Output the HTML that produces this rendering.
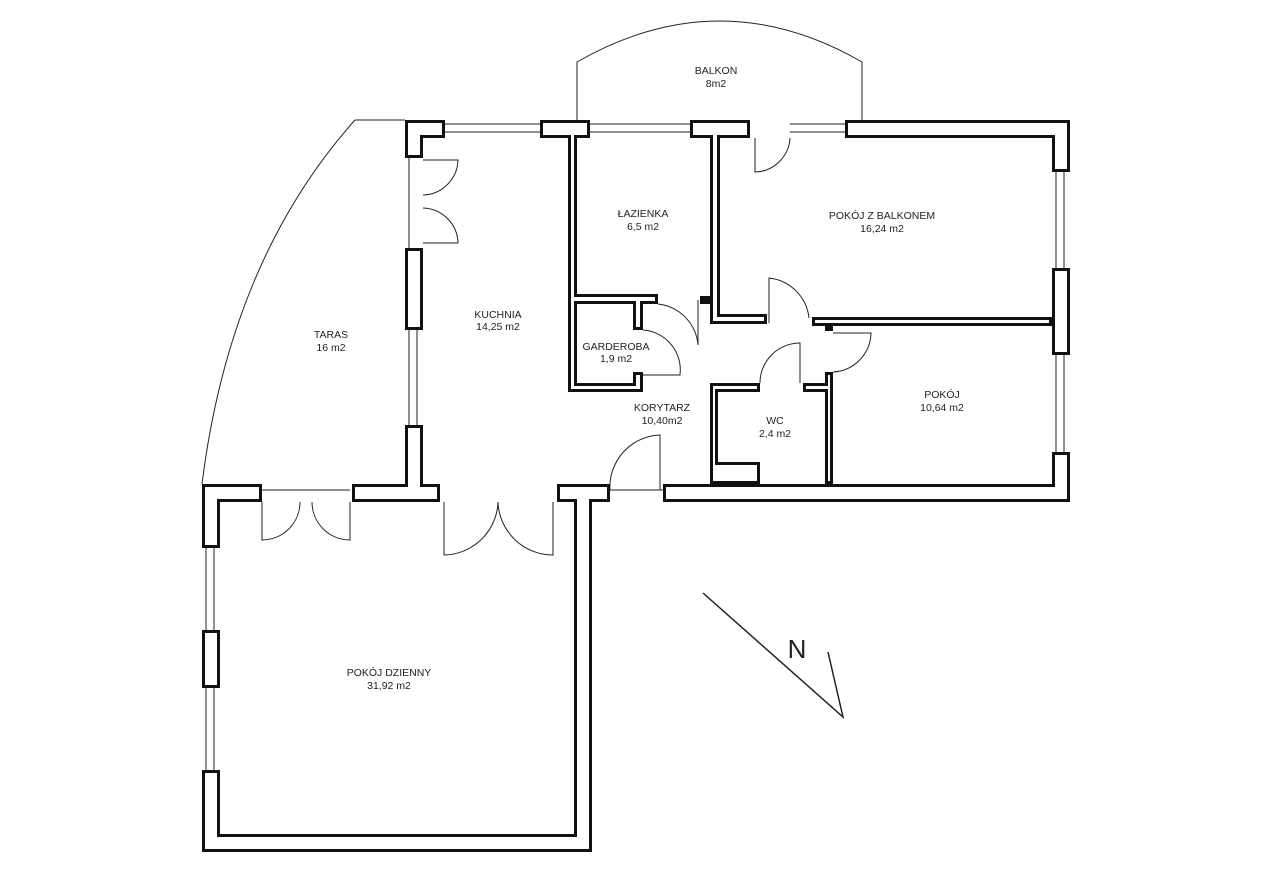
<!DOCTYPE html><html><head><meta charset="utf-8"><style>body{margin:0;background:#fff}svg{display:block}text{font-family:"Liberation Sans",sans-serif;font-size:10.5px;fill:#222;text-anchor:middle}</style></head><body>
<svg width="1280" height="880" viewBox="0 0 1280 880">
<g fill="none" stroke="#222" stroke-width="1">
<path d="M355,120 L405,120"/><path d="M355,120 Q230,260 202,484"/>
<path d="M577,120 L577,62 Q720,-20 862,62 L862,120"/>
<!-- windows -->
<path d="M445,124 H540 M445,132 H540 M590,124 H690 M590,132 H690 M790,124 H845 M790,132 H845"/>
<path d="M1056,172 V268 M1064,172 V268 M1056,355 V452 M1064,355 V452"/>
<path d="M409,330 V425 M417,330 V425 M206,548 V630 M214,548 V630 M206,688 V770 M214,688 V770"/>
<!-- doors -->
<path d="M423,160 H458 A36,36 0 0 1 423,195 M423,208 A36,36 0 0 1 458,243 H423 M409,158 V248"/>
<path d="M755,138 V172 A36,36 0 0 0 790,138"/>
<path d="M262,502 V540 A38,38 0 0 0 300,502 M350,502 V540 A38,38 0 0 1 312,502 M262,490 H350"/>
<path d="M444,502 V555 A55,55 0 0 0 498,502 M553,502 V555 A55,55 0 0 1 498,502"/>
<path d="M610,490 H663 M660,490 V435 A52,52 0 0 0 610,490"/>
<path d="M658,304 A45,45 0 0 1 698,345 V300"/>
<path d="M643,375 H680 A40,40 0 0 0 643,330"/>
<path d="M769,323 V278 A45,45 0 0 1 809,318"/>
<path d="M833,333 H871 A40,40 0 0 1 833,372"/>
<path d="M800,383 V343 A40,40 0 0 0 760,383"/>
<!-- north -->
<path d="M703,593 L843,717 L828,652" stroke-width="1.5"/>
</g>
<g fill="#111">
<rect x="405" y="120" width="40" height="18"/><rect x="405" y="120" width="18" height="38"/>
<rect x="540" y="120" width="50" height="18"/><rect x="568" y="120" width="9" height="272"/>
<rect x="690" y="120" width="60" height="18"/><rect x="710" y="120" width="10" height="204"/>
<rect x="845" y="120" width="225" height="18"/>
<rect x="1052" y="120" width="18" height="52"/><rect x="1052" y="268" width="18" height="87"/><rect x="1052" y="452" width="18" height="50"/>
<rect x="663" y="484" width="407" height="18"/>
<rect x="405" y="248" width="18" height="82"/><rect x="405" y="425" width="18" height="77"/><rect x="352" y="484" width="88" height="18"/>
<rect x="202" y="484" width="60" height="18"/><rect x="202" y="484" width="18" height="64"/><rect x="202" y="630" width="18" height="58"/><rect x="202" y="770" width="18" height="82"/>
<rect x="202" y="834" width="390" height="18"/><rect x="574" y="484" width="18" height="368"/><rect x="557" y="484" width="53" height="18"/>
<rect x="568" y="294" width="90" height="10"/><rect x="633" y="294" width="10" height="36"/><rect x="633" y="372" width="10" height="20"/><rect x="568" y="383" width="75" height="9"/>
<rect x="710" y="314" width="57" height="10"/><rect x="700" y="296" width="12" height="8"/>
<rect x="812" y="317" width="240" height="9"/><rect x="825" y="317" width="8" height="14"/>
<rect x="710" y="383" width="50" height="9"/><rect x="710" y="383" width="8" height="101"/><rect x="710" y="462" width="50" height="22"/>
<rect x="803" y="383" width="30" height="9"/><rect x="825" y="372" width="8" height="112"/>
</g>
<g fill="#fff">
<rect x="408" y="123" width="34" height="12"/><rect x="408" y="123" width="12" height="32"/>
<rect x="543" y="123" width="44" height="12"/><rect x="571" y="123" width="3" height="266"/>
<rect x="693" y="123" width="54" height="12"/><rect x="713" y="123" width="4" height="198"/>
<rect x="848" y="123" width="219" height="12"/>
<rect x="1055" y="123" width="12" height="46"/><rect x="1055" y="271" width="12" height="81"/><rect x="1055" y="455" width="12" height="44"/>
<rect x="666" y="487" width="401" height="12"/>
<rect x="408" y="251" width="12" height="76"/><rect x="408" y="428" width="12" height="71"/><rect x="355" y="487" width="82" height="12"/>
<rect x="205" y="487" width="54" height="12"/><rect x="205" y="487" width="12" height="58"/><rect x="205" y="633" width="12" height="52"/><rect x="205" y="773" width="12" height="76"/>
<rect x="205" y="837" width="384" height="12"/><rect x="577" y="487" width="12" height="362"/><rect x="560" y="487" width="47" height="12"/>
<rect x="571" y="297" width="84" height="4"/><rect x="636" y="297" width="4" height="30"/><rect x="636" y="375" width="4" height="14"/><rect x="571" y="386" width="69" height="3"/>
<rect x="713" y="317" width="51" height="4"/>
<rect x="815" y="320" width="234" height="3"/>
<rect x="713" y="386" width="44" height="3"/><rect x="713" y="386" width="2" height="95"/><rect x="713" y="465" width="44" height="16"/>
<rect x="806" y="386" width="24" height="3"/><rect x="828" y="375" width="2" height="106"/>
</g>
<text x="716" y="74">BALKON</text><text x="716" y="87">8m2</text>
<text x="643" y="217">ŁAZIENKA</text><text x="643" y="230">6,5 m2</text>
<text x="882" y="219">POKÓJ Z BALKONEM</text><text x="882" y="232">16,24 m2</text>
<text x="498" y="318">KUCHNIA</text><text x="498" y="330">14,25 m2</text>
<text x="331" y="338">TARAS</text><text x="331" y="351">16 m2</text>
<text x="616" y="350">GARDEROBA</text><text x="616" y="362">1,9 m2</text>
<text x="662" y="411">KORYTARZ</text><text x="662" y="424">10,40m2</text>
<text x="775" y="424">WC</text><text x="775" y="437">2,4 m2</text>
<text x="942" y="398">POKÓJ</text><text x="942" y="411">10,64 m2</text>
<text x="389" y="676">POKÓJ DZIENNY</text><text x="389" y="689">31,92 m2</text>
<text x="797" y="658" style="font-size:26px">N</text>
</svg></body></html>
